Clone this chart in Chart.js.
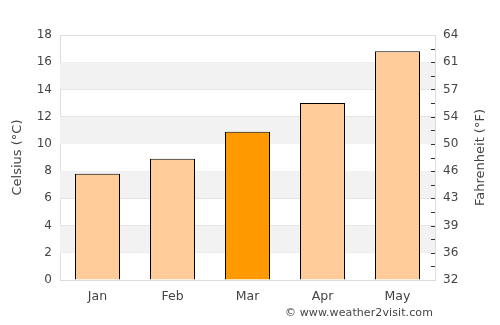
<!DOCTYPE html>
<html><head><meta charset="utf-8">
<script src="https://cdn.jsdelivr.net/npm/chart.js@4"></script>
<style>
html,body{margin:0;padding:0;background:#fff;}
#wrap{position:relative;width:500px;height:325px;}
#wm{position:absolute;left:285px;top:306px;font:11px "DejaVu Sans";color:#444;letter-spacing:0.1px;}
</style></head><body>
<div id="wrap"><canvas id="c" width="500" height="325"></canvas><div id="wm">© www.weather2visit.com</div></div>
<script>
const months = ["Jan","Feb","Mar","Apr","May"];
const celsius = [7.8, 8.9, 10.9, 13.0, 16.8];
const highlightIndex = 2;
const fahrenheitLabels = ["32","36","39","43","46","50","54","57","61","64"];

const textColor = "#444";
const tickFont = {family: "DejaVu Sans", size: 12};
const titleFont = {family: "DejaVu Sans", size: 13};

const decor = {
  id: "decor",
  beforeDatasetsDraw(chart) {
    const {ctx, chartArea, scales} = chart;
    const y = scales.y;
    ctx.save();
    ctx.fillStyle = "#f2f2f2";
    for (let v = 2; v < 18; v += 4) {
      const top = y.getPixelForValue(v + 2), bot = y.getPixelForValue(v);
      ctx.fillRect(chartArea.left, top, chartArea.right - chartArea.left, bot - top);
    }
    ctx.restore();
  },
  afterDraw(chart) {
    const {ctx, chartArea, scales} = chart;
    const y2 = scales.y2;
    ctx.save();
    ctx.strokeStyle = "#333";
    ctx.lineWidth = 1;
    y2.ticks.forEach((t, i) => {
      if (i === 0 || i === y2.ticks.length - 1) return;
      const py = Math.round(y2.getPixelForValue(t.value)) + 0.5;
      ctx.beginPath();
      ctx.moveTo(chartArea.right - 4, py);
      ctx.lineTo(chartArea.right, py);
      ctx.stroke();
    });
    const cy = (chartArea.top + chartArea.bottom) / 2;
    ctx.fillStyle = textColor;
    ctx.font = `${titleFont.size}px "${titleFont.family}"`;
    ctx.textAlign = "center";
    ctx.textBaseline = "middle";
    [[18, "Celsius (°C)"], [481, "Fahrenheit (°F)"]].forEach(([x, txt]) => {
      ctx.save();
      ctx.translate(x, cy);
      ctx.rotate(-Math.PI / 2);
      ctx.fillText(txt, 0, 0);
      ctx.restore();
    });
    ctx.restore();
  }
};

new Chart(document.getElementById("c"), {
  type: "bar",
  data: {
    labels: months,
    datasets: [{
      data: celsius,
      backgroundColor: celsius.map((_, i) => i === highlightIndex ? "#ff9900" : "#ffcc99"),
      borderColor: "#000",
      borderWidth: 1,
      barPercentage: 0.6,
      categoryPercentage: 1.0
    }]
  },
  options: {
    responsive: false,
    animation: false,
    layout: {padding: {top: 35, left: 0, right: 0, bottom: 0}},
    plugins: {legend: {display: false}, tooltip: {enabled: false}},
    scales: {
      x: {
        grid: {display: false, drawTicks: false},
        border: {color: "#ddd"},
        ticks: {color: textColor, font: {family: "DejaVu Sans", size: 12.5}, padding: 9},
        afterFit: s => { s.height = 45; }
      },
      y: {
        position: "left",
        min: 0, max: 18,
        ticks: {stepSize: 2, color: textColor, font: tickFont, padding: 8},
        grid: {color: "#ddd", drawTicks: false},
        border: {color: "#ddd"},
        afterFit: s => { s.width = 60; }
      },
      y2: {
        position: "right",
        min: 0, max: 18,
        ticks: {
          stepSize: 1, color: textColor, font: tickFont, padding: 8, autoSkip: false,
          callback: (v) => (v % 2 === 0) ? fahrenheitLabels[v / 2] : ""
        },
        grid: {drawOnChartArea: false, drawTicks: false},
        border: {color: "#ddd"},
        afterFit: s => { s.width = 65; }
      }
    }
  },
  plugins: [decor]
});
</script>
</body></html>
